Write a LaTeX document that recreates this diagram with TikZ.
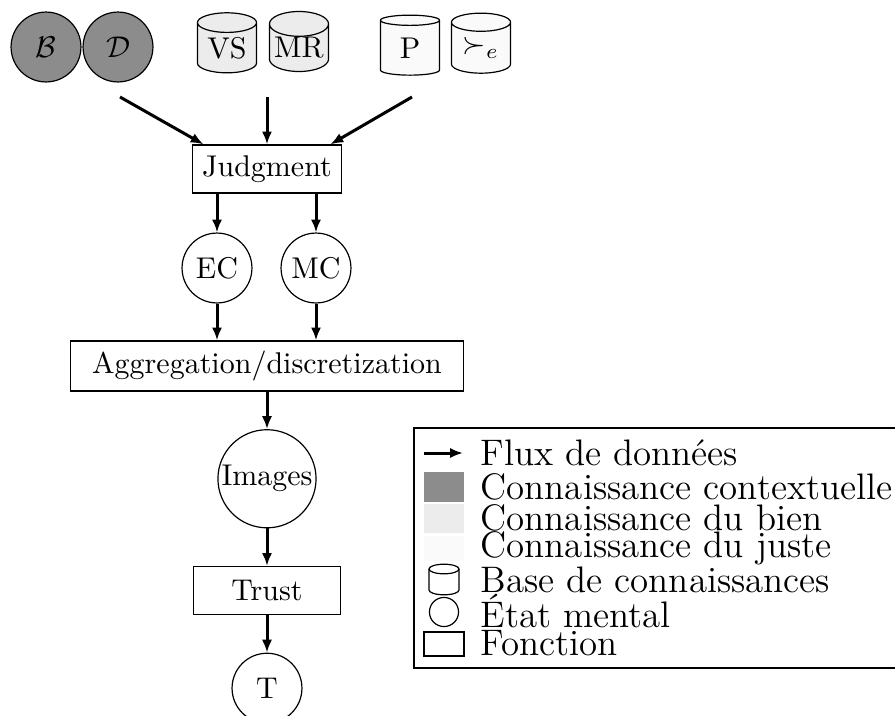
\documentclass[tikz,border=0pt]{standalone}
\usepackage{tikz}
\usepackage{xcolor}
\usetikzlibrary{
    positioning,      % For placing nodes below one another
    shapes.geometric, % For the cylinder shape of the knowledge bases
    arrows.meta       % For the Latex arrow tip
}
\definecolor{ContextFill}{HTML}{8C8C8C}
\definecolor{GoodFill}{HTML}{ECECEC}
\definecolor{RightFill}{HTML}{FAFAFA}

\begin{document}
\begin{tikzpicture}[
    % One unit is one pixel of the reference, y going down
    x=0.3333pt, y=-0.3333pt,
    % Vertical gap between the nodes of the main chain
    node distance=12.5pt,
]
    % --- Define TikZ styles for diagram elements ---
    \tikzset{
        % Knowledge base (cylinder standing upright)
        kbase/.style={
            cylinder,
            shape border rotate=90,
            aspect=0.5,
            draw,
            inner sep=0pt,
            minimum width=19.7pt,
            minimum height=20pt,
        },
        % Mental state (circle)
        state/.style={
            circle,
            draw,
            inner sep=1pt,
            minimum size=23.3pt,
        },
        % Function (plain rectangle)
        function/.style={
            rectangle,
            draw,
            minimum width=49pt,
            minimum height=16pt,
        },
        % Data flow arrows
        flow/.style={
            draw,
            line width=1pt,
            -{Latex[length=4.3pt, width=3.4pt]}
        },
        % Legend texts
        legtext/.style={
            anchor=base west,
            font=\fontsize{12.3pt}{14pt}\selectfont,
            inner sep=0pt,
        }
    }

    % Fix the page to the size of the reference
    \useasboundingbox (0,0) rectangle (895,715);

    % --- Knowledge on top ---
    \node[state, fill=ContextFill] (belief) at (46,47) {$\mathcal{B}$};
    \node[state, fill=ContextFill] (desire) at (118,47) {$\mathcal{D}$};
    \node[kbase, fill=GoodFill] (vs) at (227,48) {VS};
    \node[kbase, fill=GoodFill] (mr) at (299,48) {MR};
    \node[kbase, fill=RightFill] (pref) at (410,48) {P};
    \node[kbase, fill=RightFill] (succ) at (481,48) {$\succ_e$};

    % Start points of the three input arrows
    \coordinate (ctxin) at (120,97);
    \coordinate (goodin) at (267,97);
    \coordinate (rightin) at (412,97);

    % --- Main chain ---
    \node[function] (judgment) at (267,169) {Judgment};
    \node[state] (ec) at (217,268) {EC};
    \node[state] (mc) at (316,268) {MC};
    \node[function, minimum width=131pt] (aggreg) at (267,366) {Aggregation/discretization};
    \node[state, minimum size=32.7pt, inner sep=0pt, below=of aggreg] (images) {Images};
    \node[function, below=of images] (trust) {Trust};
    \node[state, below=of trust] (t) {T};

    % --- Arrows ---
    \draw[flow] (ctxin) -- ([xshift=4pt]judgment.north west);
    \draw[flow] (goodin) -- (judgment.north);
    \draw[flow] (rightin) -- ([xshift=-4pt]judgment.north east);
    \draw[flow] (ec |- judgment.south) -- (ec.north);
    \draw[flow] (mc |- judgment.south) -- (mc.north);
    \draw[flow] (ec.south) -- (ec |- aggreg.north);
    \draw[flow] (mc.south) -- (mc |- aggreg.north);
    \draw[flow] (aggreg) -- (images);
    \draw[flow] (images) -- (trust);
    \draw[flow] (trust) -- (t);

    % --- Legend ---
    \draw (414,428) rectangle (900,668);
    \coordinate (legfrom) at (424,453);
    \coordinate (legto) at (463,453);
    \draw[flow] (legfrom) -- (legto);
    \fill[ContextFill] (424,472) rectangle (464,502);
    \fill[GoodFill] (424,504) rectangle (464,533);
    \fill[RightFill] (424,536) rectangle (464,561);
    % small cylinder
    \draw (429,569) -- (429,590) arc[start angle=180, end angle=360, x radius=5pt, y radius=1.6pt] -- (459,569);
    \draw (444,569) ellipse [x radius=5pt, y radius=1.6pt];
    \node[circle, draw, inner sep=0pt, minimum size=9.7pt] (legstate) at (444,612) {};
    \draw (424,632) rectangle (464,656);

    \node[legtext] (leg1) at (480,465) {Flux de données};
    \node[legtext] (leg2) at (480,499) {Connaissance contextuelle};
    \node[legtext] (leg3) at (480,530) {Connaissance du bien};
    \node[legtext] (leg4) at (480,557) {Connaissance du juste};
    \node[legtext] (leg5) at (480,592) {Base de connaissances};
    \node[legtext] (leg6) at (480,627) {État mental};
    \node[legtext] (leg7) at (480,655) {Fonction};

\end{tikzpicture}
\end{document}
